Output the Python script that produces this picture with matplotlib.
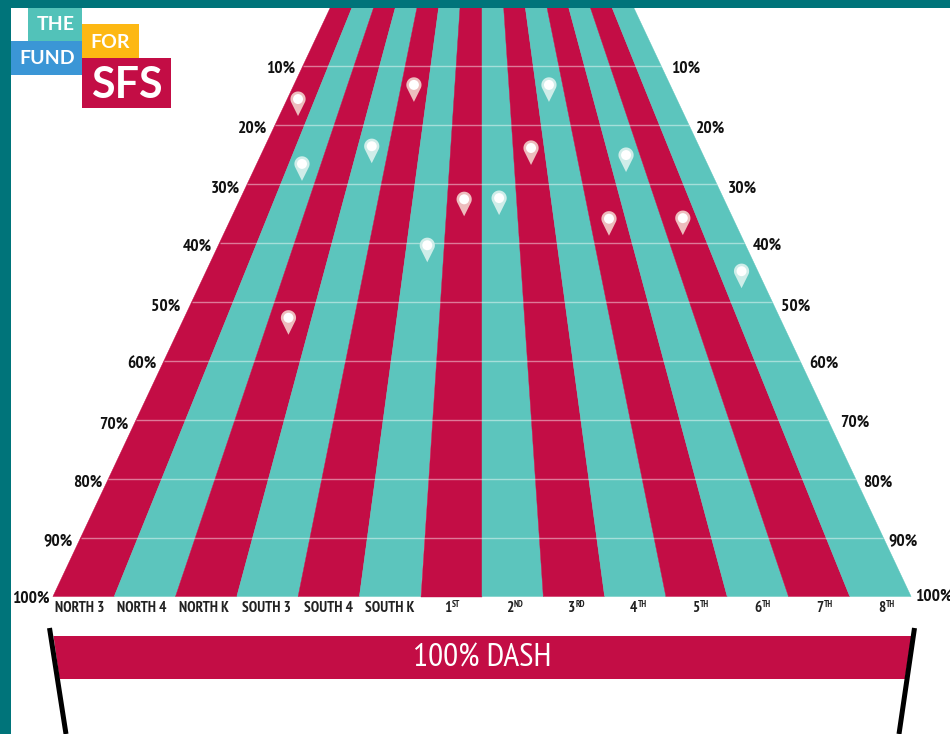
import numpy as np
import matplotlib
matplotlib.use("Agg")
import logging
logging.getLogger("matplotlib.font_manager").setLevel(logging.ERROR)
import matplotlib.pyplot as plt
from matplotlib.patches import Polygon, Rectangle, Circle

lanes = ["NORTH 3", "NORTH 4", "NORTH K", "SOUTH 3", "SOUTH 4", "SOUTH K",
         ("1", "ST"), ("2", "ND"), ("3", "RD"), ("4", "TH"), ("5", "TH"), ("6", "TH"), ("7", "TH"), ("8", "TH")]
pct_ticks = [10, 20, 30, 40, 50, 60, 70, 80, 90, 100]
pin_lane = [0.65, 1.60, 3.57, 4.57, 5.59, 6.50, 7.48, 8.52, 9.39, 10.43, 11.40, 12.43, 13.40, 2.57]
pin_pct = [18.5, 29.5, 26.5, 16.1, 43.3, 35.5, 35.3, 26.8, 16.1, 38.8, 28.0, 38.7, 47.7, 55.6]

# hand placement of the percent labels relative to the funnel edge (pixels)
left_dx = [22, 22, 22, 22, 26, 22, 22, 21, 23, 22]
left_dy = [2.5, 3.5, 5, 4, 4.5, 4.5, 5, 4, 3.5, 2.5]
right_dx = [24, 22, 26, 23, 23, 24, 27, 22, 20, 23]
right_dy = [2.5, 3.5, 5, 2.5, 4.5, 4.5, 3.5, 4, 3.5, 0.5]

CRIMSON = "#C30D45"
TEAL = "#5CC5BD"
FRAME = "#00747A"
COND = ["PT Sans Narrow", "Roboto Condensed", "Lato"]
Y0, YPCT = 7.0, 5.895
W_TOP, W_BOT = 21.7, 61.3
CX = 482.0


def py(p):
    return Y0 + YPCT * np.asarray(p, float)


def px(u, p):
    y = py(p)
    w = W_TOP + (W_BOT - W_TOP) * (y - 8) / (596.5 - 8)
    return CX + (np.asarray(u, float) - 7) * w


fig = plt.figure(figsize=(9.5, 7.34), dpi=100)
ax = fig.add_axes([0, 0, 1, 1])
ax.set_xlim(0, 950)
ax.set_ylim(734, 0)
ax.axis("off")

# lanes
p_top = (8 - Y0) / YPCT
for i, lab in enumerate(lanes):
    col = CRIMSON if i % 2 == 0 else TEAL
    ax.add_patch(Polygon([(px(i, p_top), 8), (px(i + 1, p_top), 8), (px(i + 1, 100), py(100)), (px(i, 100), py(100))],
                         closed=True, fc=col, ec=col, lw=0.3, zorder=2))
    xc = 80 + 62 * i
    if isinstance(lab, str):
        ax.text(xc, 607.5, lab, family=COND, weight="bold", fontsize=11, color="#222222", ha="center", va="center", zorder=5)
    else:
        ax.text(xc - 0.5, 607.5, lab[0], family=COND, weight="bold", fontsize=11, color="#222222", ha="right", va="center", zorder=5)
        ax.text(xc - 0.2, 604.5, lab[1], family=COND, weight="bold", fontsize=6.6, color="#222222", ha="left", va="center", zorder=5)

# grid + labels
for j, p in enumerate(pct_ticks):
    y = py(p)
    l, r = px(0, p), px(14, p)
    if p < 100:
        ax.plot([l, r], [y, y], color="white", alpha=0.45, lw=1, zorder=3, solid_capstyle="butt")
    ax.text(l - left_dx[j], y + left_dy[j], f"{p}%", family=COND, weight="bold", fontsize=12.5, color="#111111", ha="center", va="center", zorder=5)
    ax.text(r + right_dx[j], y + right_dy[j], f"{p}%", family=COND, weight="bold", fontsize=12.5, color="#111111", ha="center", va="center", zorder=5, clip_on=False)

# pins
for u, p in zip(pin_lane, pin_pct):
    tx, ty = float(px(u, p)), float(py(p))
    hy = ty - 17
    tint = "#EDBDBE" if int(u) % 2 == 0 else "#CFEDE9"
    t = np.linspace(np.pi * 1.12, -0.12 * np.pi, 30)
    pts = [(tx + 7.6 * np.cos(a), hy - 7.6 * np.sin(a)) for a in t] + [(tx, ty)]
    ax.add_patch(Polygon(pts, closed=True, fc=tint, ec="none", zorder=6))
    ax.add_patch(Circle((tx, hy), 5.0, fc="white", ec="none", zorder=7))

# black posts and dash bar
ax.plot([49.5, 66], [628, 734], color="black", lw=3.6, solid_capstyle="butt", zorder=4)
ax.plot([914.5, 899], [628, 734], color="black", lw=3.6, solid_capstyle="butt", zorder=4)
ax.add_patch(Polygon([(53.5, 636), (911.5, 636), (905, 679), (59.5, 679)], closed=True, fc=CRIMSON, ec="none", zorder=3))
ax.text(482.5, 659, "100% DASH", family=COND, fontsize=24, color="white", ha="center", va="center", zorder=5)

# frame
ax.add_patch(Rectangle((0, 0), 950, 8, fc=FRAME, ec="none", zorder=9))
ax.add_patch(Rectangle((0, 0), 11, 734, fc=FRAME, ec="none", zorder=9))

# logo
ax.add_patch(Rectangle((28, 8), 54, 33, fc="#52C2B9", ec="none", zorder=6))
ax.add_patch(Rectangle((11, 41), 71, 34, fc="#3B96D6", ec="none", zorder=6))
ax.add_patch(Rectangle((82, 24), 57, 34, fc="#FDB813", ec="none", zorder=6))
ax.add_patch(Rectangle((82, 58), 89, 50, fc=CRIMSON, ec="none", zorder=6))
lk = dict(family="Lato", weight="bold", color="white", ha="center", va="center", zorder=7)
ax.text(55.5, 25, "THE", fontsize=14, **lk)
ax.text(47, 59, "FUND", fontsize=14, **lk)
ax.text(110, 42, "FOR", fontsize=14, **lk)
ax.text(127, 85, "SFS", fontsize=31, **lk)

fig.savefig("out.png", dpi=100)
